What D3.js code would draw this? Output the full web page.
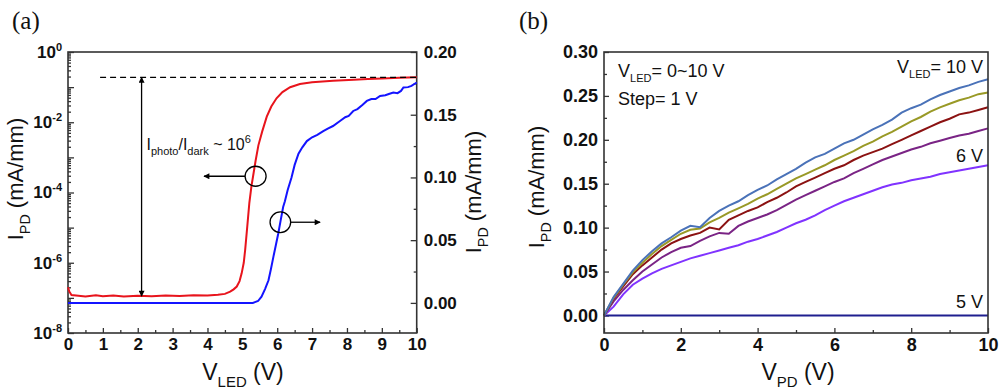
<!DOCTYPE html>
<html><head><meta charset="utf-8">
<script src="https://cdn.jsdelivr.net/npm/d3@7"></script>
<style>
body{margin:0;background:#fff}
</style>
</head><body>
<svg id="c" width="1000" height="389" font-family="'Liberation Sans',Arial,sans-serif"></svg>
<script>
// ---------------- DATA: panel (a) ----------------
const vledRed = [0,0.04,0.1,0.3,0.5,0.8,1.0,1.3,1.6,2.0,2.4,2.8,3.2,3.6,4.0,4.3,4.5,4.65,4.75,4.84,4.92,4.98,5.04,5.08,5.14,5.20,5.26,5.31,5.38,5.46,5.57,5.70,5.83,5.98,6.15,6.37,6.65,7.0,7.6,8.2,8.6,9.0,9.5,10];
const iRedLog = [2.0e-7,1.5e-7,1.2e-7,1.15e-7,1.1e-7,1.18e-7,1.12e-7,1.17e-7,1.1e-7,1.15e-7,1.12e-7,1.17e-7,1.13e-7,1.19e-7,1.16e-7,1.22e-7,1.3e-7,1.5e-7,1.75e-7,2.1e-7,3.0e-7,5.0e-7,1.0e-6,2.3e-6,1.05e-5,5e-5,1.5e-4,3e-4,8e-4,2.2e-3,5.5e-3,1.44e-2,2.8e-2,4.8e-2,7.2e-2,0.099,0.123,0.137,0.152,0.163,0.170,0.176,0.185,0.19];
const vledBlue = [0,1,2,3,4,5,5.3,5.45,5.55,5.65,5.75,5.82,5.89,5.96,6.03,6.1,6.17,6.22,6.3,6.41,6.5,6.61,6.72,6.85,7.0,7.15,7.32,7.45,7.6,7.8,7.95,8.05,8.18,8.3,8.45,8.57,8.7,8.82,8.95,9.1,9.2,9.33,9.45,9.55,9.62,9.75,9.85,10];
const iBlueLin = [0,0,0,0,0,0,0,0.0015,0.005,0.011,0.018,0.027,0.0367,0.046,0.0553,0.066,0.0764,0.081,0.090,0.100,0.110,0.119,0.124,0.129,0.132,0.134,0.137,0.139,0.141,0.145,0.148,0.149,0.153,0.1545,0.158,0.161,0.1625,0.1625,0.165,0.1655,0.1665,0.1677,0.1672,0.169,0.1717,0.172,0.173,0.1757];
const xTicksA = [0,1,2,3,4,5,6,7,8,9,10];
const logLabelExps = [0,-2,-4,-6,-8];
const rightTicksA = [0,0.05,0.10,0.15,0.20];
// annotation anchors (data units)
const ratioLevel = 0.19, darkLevel = 1.12e-7;

// ---------------- DATA: panel (b) ----------------
const vpd = [0,0.25,0.5,0.75,1,1.25,1.5,1.75,2,2.25,2.5,2.75,3,3.25,3.5,3.75,4,4.25,4.5,4.75,5,5.25,5.5,5.75,6,6.25,6.5,6.75,7,7.25,7.5,7.75,8,8.25,8.5,8.75,9,9.25,9.5,9.75,10];
const i10V = [0,0.021,0.036,0.051,0.063,0.073,0.082,0.089,0.0965,0.102,0.1005,0.111,0.119,0.125,0.130,0.137,0.143,0.148,0.155,0.161,0.167,0.174,0.180,0.184,0.190,0.196,0.200,0.206,0.212,0.217,0.223,0.231,0.236,0.240,0.246,0.251,0.255,0.259,0.262,0.266,0.269];
const i9V  = [0,0.020,0.035,0.049,0.060,0.070,0.079,0.086,0.093,0.0975,0.099,0.106,0.111,0.117,0.122,0.127,0.133,0.138,0.144,0.150,0.156,0.161,0.166,0.171,0.177,0.182,0.187,0.193,0.198,0.204,0.209,0.215,0.221,0.226,0.232,0.237,0.241,0.245,0.248,0.252,0.254];
const i8V  = [0,0.019,0.033,0.047,0.057,0.066,0.075,0.082,0.087,0.091,0.094,0.100,0.098,0.109,0.114,0.119,0.123,0.129,0.134,0.140,0.147,0.152,0.157,0.162,0.167,0.171,0.177,0.182,0.186,0.190,0.195,0.200,0.205,0.210,0.215,0.220,0.224,0.229,0.231,0.234,0.237];
const i7V  = [0,0.016,0.029,0.040,0.050,0.058,0.066,0.072,0.077,0.079,0.085,0.090,0.094,0.093,0.102,0.107,0.111,0.115,0.120,0.126,0.132,0.137,0.142,0.147,0.152,0.156,0.162,0.167,0.172,0.177,0.181,0.185,0.189,0.192,0.196,0.199,0.202,0.205,0.207,0.210,0.213];
const i6V  = [0,0.010,0.024,0.035,0.042,0.048,0.053,0.057,0.061,0.065,0.068,0.071,0.074,0.077,0.080,0.084,0.087,0.091,0.095,0.100,0.105,0.109,0.114,0.120,0.125,0.130,0.134,0.138,0.142,0.146,0.149,0.151,0.154,0.156,0.158,0.161,0.163,0.165,0.167,0.169,0.171];
const iLow = [0,0,0,0,0,0,0,0,0,0,0,0,0,0,0,0,0,0,0,0,0,0,0,0,0,0,0,0,0,0,0,0,0,0,0,0,0,0,0,0,0];
const seriesB = [
  {name:"0-5 V", vals:iLow, color:"#1f1f8f"},
  {name:"6 V", vals:i6V, color:"#8033ff"},
  {name:"7 V", vals:i7V, color:"#7a2485"},
  {name:"8 V", vals:i8V, color:"#8b1212"},
  {name:"9 V", vals:i9V, color:"#999926"},
  {name:"10 V", vals:i10V, color:"#4a72b8"}
];
const xTicksB = [0,2,4,6,8,10];
const yTicksB = [0,0.05,0.10,0.15,0.20,0.25,0.30];

// ---------------- DRAW ----------------
const svg = d3.select("#c");
const frameC = "#333";
const SANS = "'Liberation Sans',Arial,sans-serif";
const SERIF = "'Liberation Serif','Times New Roman',serif";
const defs = svg.append("defs");
defs.append("marker").attr("id","ah").attr("viewBox","0 0 10 10").attr("refX",9).attr("refY",5)
  .attr("markerWidth",8).attr("markerHeight",6).attr("markerUnits","userSpaceOnUse").attr("orient","auto-start-reverse")
  .append("path").attr("d","M0,0 L10,5 L0,10 z").attr("fill","#000");

function styleAxis(g, fs){
  g.select(".domain").remove();
  g.selectAll("line").attr("stroke",frameC).attr("stroke-width",1.3);
  g.attr("font-family",null);
  g.selectAll("text").style("font-family",SANS)
    .attr("font-weight","bold").attr("font-size",fs).attr("fill","#111");
}

// ===== Panel (a) =====
const xA = d3.scaleLinear([0,10],[68,416.7]);
const yL = d3.scaleLog([1e-8,1],[333,52]);
const yR = d3.scaleLinear([-0.024,0.2],[333,52]);

const gxA = svg.append("g").attr("transform","translate(0,333)")
  .call(d3.axisBottom(xA).tickValues(xTicksA).tickSize(-5).tickPadding(5).tickFormat(d3.format("d")));
styleAxis(gxA,17);
const gxAm = svg.append("g").attr("transform","translate(0,333)")
  .call(d3.axisBottom(xA).tickValues(xTicksA.slice(0,-1).map(d=>d+0.5)).tickSize(-3).tickFormat(""));
styleAxis(gxAm,17);

const decades = [0,-1,-2,-3,-4,-5,-6,-7,-8];
const gyL = svg.append("g").attr("transform","translate(68,0)")
  .call(d3.axisLeft(yL).tickValues(decades.map(e=>Math.pow(10,e))).tickSize(-6).tickPadding(6).tickFormat(""));
styleAxis(gyL,17);
gyL.selectAll(".tick").each(function(d){
  const e = Math.round(Math.log10(d));
  if(logLabelExps.indexOf(e)<0) return;
  const t = d3.select(this).select("text").text(null);
  t.append("tspan").text("10");
  t.append("tspan").attr("dy",-7).attr("font-size",11).text(String(e));
});
const minorLog = [];
for(const e of decades.slice(1)){ for(const m of [2,3,4,5,6,7,8,9]) minorLog.push(m*Math.pow(10,e)); }
const gyLm = svg.append("g").attr("transform","translate(68,0)")
  .call(d3.axisLeft(yL).tickValues(minorLog).tickSize(-3).tickFormat(""));
styleAxis(gyLm,17);

const gyR = svg.append("g").attr("transform","translate(416.7,0)")
  .call(d3.axisRight(yR).tickValues(rightTicksA).tickSize(-6).tickPadding(7).tickFormat(d3.format(".2f")));
styleAxis(gyR,17);
const gyRm = svg.append("g").attr("transform","translate(416.7,0)")
  .call(d3.axisRight(yR).tickValues(rightTicksA.slice(0,-1).map(d=>d+0.025)).tickSize(-3).tickFormat(""));
styleAxis(gyRm,17);

svg.append("rect").attr("x",68).attr("y",52).attr("width",416.7-68).attr("height",333-52)
  .attr("fill","none").attr("stroke",frameC).attr("stroke-width",1.6);

const redLine = d3.line().x((d,i)=>xA(vledRed[i])).y(d=>yL(d));
svg.append("path").datum(iRedLog).attr("d",redLine).attr("fill","none").attr("stroke","#e8141c").attr("stroke-width",2);
const blueLine = d3.line().x((d,i)=>xA(vledBlue[i])).y(d=>yR(d));
svg.append("path").datum(iBlueLin).attr("d",blueLine).attr("fill","none").attr("stroke","#1414ff").attr("stroke-width",2);

svg.append("line").attr("x1",xA(0.92)).attr("x2",xA(10)).attr("y1",yL(ratioLevel)).attr("y2",yL(ratioLevel))
  .attr("stroke","#000").attr("stroke-width",1.3).attr("stroke-dasharray","6,4");
svg.append("line").attr("x1",xA(2.11)).attr("x2",xA(2.11)).attr("y1",yL(ratioLevel)).attr("y2",yL(darkLevel))
  .attr("stroke","#000").attr("stroke-width",1.3).attr("marker-start","url(#ah)").attr("marker-end","url(#ah)");
const ann = svg.append("text").attr("x",xA(2.25)).attr("y",yL(1.6e-3)).attr("font-size",16).attr("fill","#111");
ann.append("tspan").text("I");
ann.append("tspan").attr("dy",5).attr("font-size",11).text("photo");
ann.append("tspan").attr("dy",-5).text("/I");
ann.append("tspan").attr("dy",5).attr("font-size",11).text("dark");
ann.append("tspan").attr("dy",-5).text(" ~ 10");
ann.append("tspan").attr("dy",-7).attr("font-size",11).text("6");

const c1x = xA(5.38), c1y = yL(2.9e-4);
svg.append("ellipse").attr("cx",c1x).attr("cy",c1y).attr("rx",10.5).attr("ry",10).attr("fill","none").attr("stroke","#000").attr("stroke-width",1.3);
svg.append("line").attr("x1",c1x-10.5).attr("x2",xA(3.9)).attr("y1",c1y).attr("y2",c1y).attr("stroke","#000").attr("stroke-width",1.3).attr("marker-end","url(#ah)");
const c2x = xA(6.09), c2y = yR(0.0643);
svg.append("ellipse").attr("cx",c2x).attr("cy",c2y).attr("rx",10.3).attr("ry",10.3).attr("fill","none").attr("stroke","#000").attr("stroke-width",1.3);
svg.append("line").attr("x1",c2x+10.3).attr("x2",xA(7.23)).attr("y1",c2y).attr("y2",c2y).attr("stroke","#000").attr("stroke-width",1.3).attr("marker-end","url(#ah)");

svg.append("text").attr("x",12).attr("y",29).style("font-family",SERIF).attr("font-size",25).attr("fill","#111").text("(a)");
function subTitle(g, main, sub, rest, fs){
  const t = g.append("text").attr("font-size",fs).attr("fill","#111").attr("text-anchor","middle");
  t.append("tspan").text(main);
  t.append("tspan").attr("dy",fs*0.3).attr("font-size",fs*0.65).text(sub);
  t.append("tspan").attr("dy",-fs*0.3).text(rest);
  return t;
}
subTitle(svg,"I","PD"," (mA/mm)",22).attr("transform","translate(23,179) rotate(-90)");
subTitle(svg,"I","PD"," (mA/mm)",22).attr("transform","translate(481,192) rotate(-90)");
subTitle(svg,"V","LED"," (V)",23).attr("transform","translate(243,380)");

// ===== Panel (b) =====
const xB = d3.scaleLinear([0,10],[604,988]);
const yB = d3.scaleLinear([-0.02,0.30],[333,52]);

const gxB = svg.append("g").attr("transform","translate(0,333)")
  .call(d3.axisBottom(xB).tickValues(xTicksB).tickSize(-5).tickPadding(5).tickFormat(d3.format("d")));
styleAxis(gxB,18);
const gxBm = svg.append("g").attr("transform","translate(0,333)")
  .call(d3.axisBottom(xB).tickValues(xTicksB.slice(0,-1).map(d=>d+1)).tickSize(-3).tickFormat(""));
styleAxis(gxBm,18);
const gyB = svg.append("g").attr("transform","translate(604,0)")
  .call(d3.axisLeft(yB).tickValues(yTicksB).tickSize(-5).tickPadding(6).tickFormat(d3.format(".2f")));
styleAxis(gyB,18);
const gyBm = svg.append("g").attr("transform","translate(604,0)")
  .call(d3.axisLeft(yB).tickValues(yTicksB.slice(0,-1).map(d=>d+0.025)).tickSize(-3).tickFormat(""));
styleAxis(gyBm,18);

const lineB = d3.line().x((d,i)=>xB(vpd[i])).y(d=>yB(d));
seriesB.forEach(s=>{
  svg.append("path").datum(s.vals).attr("d",lineB).attr("fill","none").attr("stroke",s.color).attr("stroke-width",2);
});
svg.append("rect").attr("x",604).attr("y",52).attr("width",988-604).attr("height",333-52)
  .attr("fill","none").attr("stroke",frameC).attr("stroke-width",1.6);

svg.append("text").attr("x",519).attr("y",29).style("font-family",SERIF).attr("font-size",25).attr("fill","#111").text("(b)");
subTitle(svg,"I","PD"," (mA/mm)",22).attr("transform","translate(544,187) rotate(-90)");
subTitle(svg,"V","PD"," (V)",23).attr("transform","translate(798,380)");

function vled(x,y,rest,anchor){
  const t = svg.append("text").attr("x",x).attr("y",y).attr("font-size",18).attr("fill","#111").attr("text-anchor",anchor);
  t.append("tspan").text("V");
  t.append("tspan").attr("dy",5).attr("font-size",11).text("LED");
  t.append("tspan").attr("dy",-5).text(rest);
}
vled(618,77,"= 0~10 V","start");
svg.append("text").attr("x",618).attr("y",105).attr("font-size",18).attr("fill","#111").text("Step= 1 V");
vled(983,73,"= 10 V","end");
svg.append("text").attr("x",983).attr("y",162).attr("font-size",18).attr("fill","#111").attr("text-anchor","end").text("6 V");
svg.append("text").attr("x",983).attr("y",308).attr("font-size",18).attr("fill","#111").attr("text-anchor","end").text("5 V");
</script>
</body></html>
